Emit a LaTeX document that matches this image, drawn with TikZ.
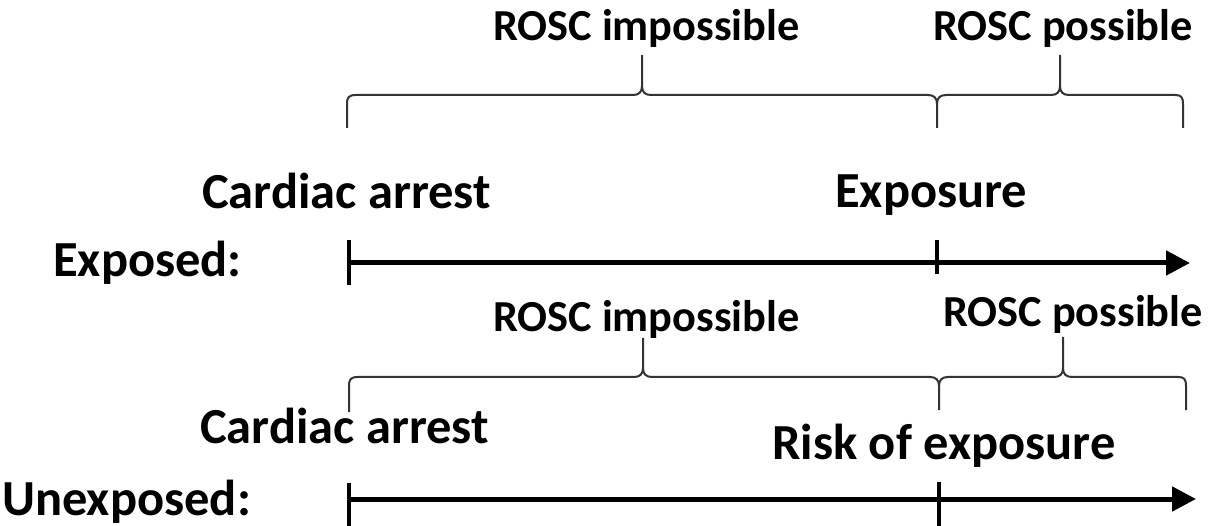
\documentclass[tikz,border=0pt]{standalone}
\usepackage{fontspec}
\setmainfont{Carlito}
\usetikzlibrary{arrows.meta}
\tikzset{
  lab/.style={anchor=base west,inner sep=0pt,font=\fontsize{44.3}{52}\selectfont\bfseries},
  biglab/.style={anchor=base west,inner sep=0pt,font=\fontsize{50.5}{58}\selectfont\bfseries},
  bracepath/.style={draw=black!80,line width=2pt,line join=round},
  timeline/.style={line width=5pt,-{Triangle[length=24pt,width=24pt]}},
  tick/.style={line width=4pt}
}
\begin{document}
\begin{tikzpicture}[x=1pt,y=-1pt]
\useasboundingbox (0,0) rectangle (1218,526);
% labels top
\node[lab] (roscI1) at (493,41) {ROSC impossible};
\node[lab] (roscP1) at (933,41) {ROSC possible};
\node[biglab] (card1) at (202,209) {Cardiac arrest};
\node[biglab] (expo1) at (835,208) {Exposure};
\node[biglab] (exposed) at (53,277) {Exposed:};
% labels bottom
\node[lab] (roscI2) at (493,332) {ROSC impossible};
\node[lab] (roscP2) at (943,327) {ROSC possible};
\node[biglab] (card2) at (200,443) {Cardiac arrest};
\node[biglab] (risk) at (772,459) {Risk of exposure};
\node[biglab] (unexp) at (2,515) {Unexposed:};
% braces top
\draw[bracepath] (347,128) -- (347,104) .. controls (347,97) and (349,95) .. (356,95)
  -- (633,95) .. controls (639,95) and (642,92) .. (642,86) -- (642,55);
\draw[bracepath] (642,86) .. controls (642,92) and (645,95) .. (651,95)
  -- (928,95) .. controls (934,95) and (937,98) .. (937,104) -- (937,128);
\draw[bracepath] (937,104) .. controls (937,98) and (940,95) .. (946,95)
  -- (1051,95) .. controls (1057,95) and (1060,92) .. (1060,86) -- (1060,55);
\draw[bracepath] (1060,86) .. controls (1060,92) and (1063,95) .. (1069,95)
  -- (1175,95) .. controls (1181,95) and (1183,97) .. (1183,104) -- (1183,128);
% braces bottom
\draw[bracepath] (349,412) -- (349,386) .. controls (349,379) and (351,377) .. (358,377)
  -- (634,377) .. controls (640,377) and (643,374) .. (643,368) -- (643,338);
\draw[bracepath] (643,368) .. controls (643,374) and (646,377) .. (652,377)
  -- (930,377) .. controls (936,377) and (939,380) .. (939,386) -- (939,410);
\draw[bracepath] (939,386) .. controls (939,380) and (942,377) .. (948,377)
  -- (1054,377) .. controls (1060,377) and (1063,374) .. (1063,368) -- (1063,337);
\draw[bracepath] (1063,368) .. controls (1063,374) and (1066,377) .. (1072,377)
  -- (1178,377) .. controls (1184,377) and (1186,379) .. (1186,386) -- (1186,410);
% timelines
\coordinate (a1) at (349,263); \coordinate (b1) at (1190,263);
\coordinate (a2) at (349,499); \coordinate (b2) at (1196,499);
\draw[timeline] (a1) -- (b1);
\draw[timeline] (a2) -- (b2);
\coordinate (t1a) at (349,240); \coordinate (t1b) at (349,285);
\coordinate (t2a) at (937,240); \coordinate (t2b) at (937,274);
\coordinate (t3a) at (349,483); \coordinate (t3b) at (349,526);
\coordinate (t4a) at (939,482); \coordinate (t4b) at (939,526);
\draw[tick] (t1a) -- (t1b);
\draw[tick] (t2a) -- (t2b);
\draw[tick] (t3a) -- (t3b);
\draw[tick] (t4a) -- (t4b);
\end{tikzpicture}
\end{document}
